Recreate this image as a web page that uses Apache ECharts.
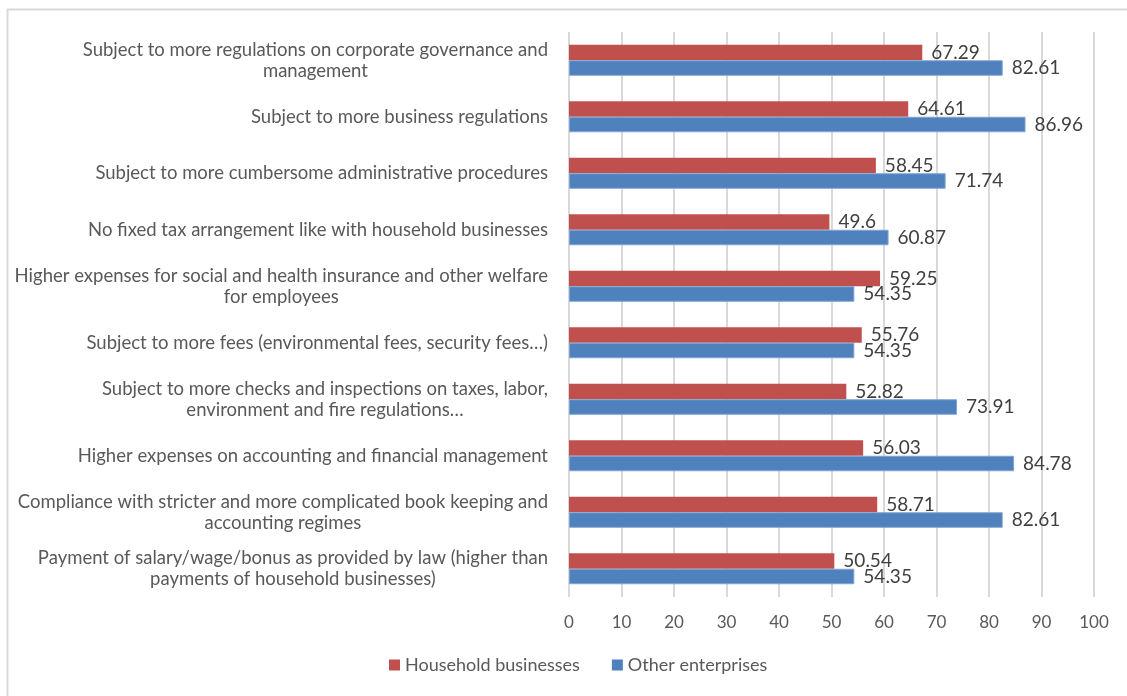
<!DOCTYPE html>
<html>
<head>
<meta charset="utf-8">
<script src="https://cdn.jsdelivr.net/npm/echarts@6/dist/echarts.min.js"></script>
<style>
  html, body { margin: 0; padding: 0; background: #ffffff; }
  #chart { width: 1127px; height: 696px; }
</style>
</head>
<body>
<div id="chart"></div>
<script>
// Reasons cited, one entry per row (top to bottom)
const categories = [
  'Subject to more regulations on corporate governance and\nmanagement',
  'Subject to more business regulations',
  'Subject to more cumbersome administrative procedures',
  'No fixed tax arrangement like with household businesses',
  'Higher expenses for social and health insurance and other welfare\nfor employees',
  'Subject to more fees (environmental fees, security fees…)',
  'Subject to more checks and inspections on taxes, labor,\nenvironment and fire regulations…',
  'Higher expenses on accounting and financial management',
  'Compliance with stricter and more complicated book keeping and\naccounting regimes',
  'Payment of salary/wage/bonus as provided by law (higher than\npayments of household businesses)'
];

const seriesNames = ['Household businesses', 'Other enterprises'];
const householdValues = [67.29, 64.61, 58.45, 49.6, 59.25, 55.76, 52.82, 56.03, 58.71, 50.54];
const otherValues = [82.61, 86.96, 71.74, 60.87, 54.35, 54.35, 73.91, 84.78, 82.61, 54.35];

const axisMin = 0;
const axisMax = 100;
const axisStep = 10;

const FONT = 'Lato, "Open Sans", sans-serif';

const chart = echarts.init(document.getElementById('chart'), null, { renderer: 'canvas' });

const valueLabel = {
  show: true,
  position: 'right',
  distance: 9,
  fontFamily: FONT,
  fontSize: 19,
  color: '#404040'
};

chart.setOption({
  backgroundColor: '#ffffff',
  animation: false,
  graphic: [{
    type: 'rect',
    left: 5,
    top: 7,
    shape: { width: 1140, height: 700 },
    style: { fill: 'none', stroke: '#d9d9d9', lineWidth: 2 },
    silent: true,
    z: -1
  }],
  legend: {
    data: seriesNames,
    bottom: 17,
    left: 384,
    itemWidth: 11,
    itemHeight: 11,
    itemGap: 32,
    icon: 'rect',
    itemStyle: { borderWidth: 0 },
    textStyle: { fontFamily: FONT, fontSize: 18, color: '#595959' }
  },
  grid: { left: 569, right: 33, top: 32, bottom: 99, containLabel: false },
  xAxis: {
    type: 'value',
    min: axisMin,
    max: axisMax,
    interval: axisStep,
    axisLine: { show: false },
    axisTick: { show: false },
    axisLabel: { margin: 17, fontFamily: FONT, fontSize: 17, color: '#595959' },
    splitLine: { show: true, lineStyle: { color: '#d9d9d9', width: 2 } }
  },
  yAxis: {
    type: 'category',
    data: categories,
    inverse: true,
    axisLine: { show: false },
    axisTick: { show: false },
    axisLabel: {
      margin: 21,
      fontFamily: FONT,
      fontSize: 18.5,
      color: '#595959',
      formatter: function (value) {
        return value.split('\n').map(function (line) { return '{c|' + line + '}'; }).join('\n');
      },
      rich: {
        c: { align: 'center', fontFamily: FONT, fontSize: 18.5, color: '#595959', lineHeight: 21 }
      }
    },
    splitLine: { show: false }
  },
  series: [
    {
      name: seriesNames[0],
      type: 'bar',
      data: householdValues,
      barWidth: 15.5,
      barGap: '0%',
      itemStyle: { color: '#C0504D' },
      label: valueLabel
    },
    {
      name: seriesNames[1],
      type: 'bar',
      data: otherValues,
      barWidth: 15.5,
      barGap: '0%',
      itemStyle: { color: '#4F81BD', borderColor: '#7fa3d3', borderWidth: 1 },
      label: valueLabel
    }
  ]
});
</script>
</body>
</html>
